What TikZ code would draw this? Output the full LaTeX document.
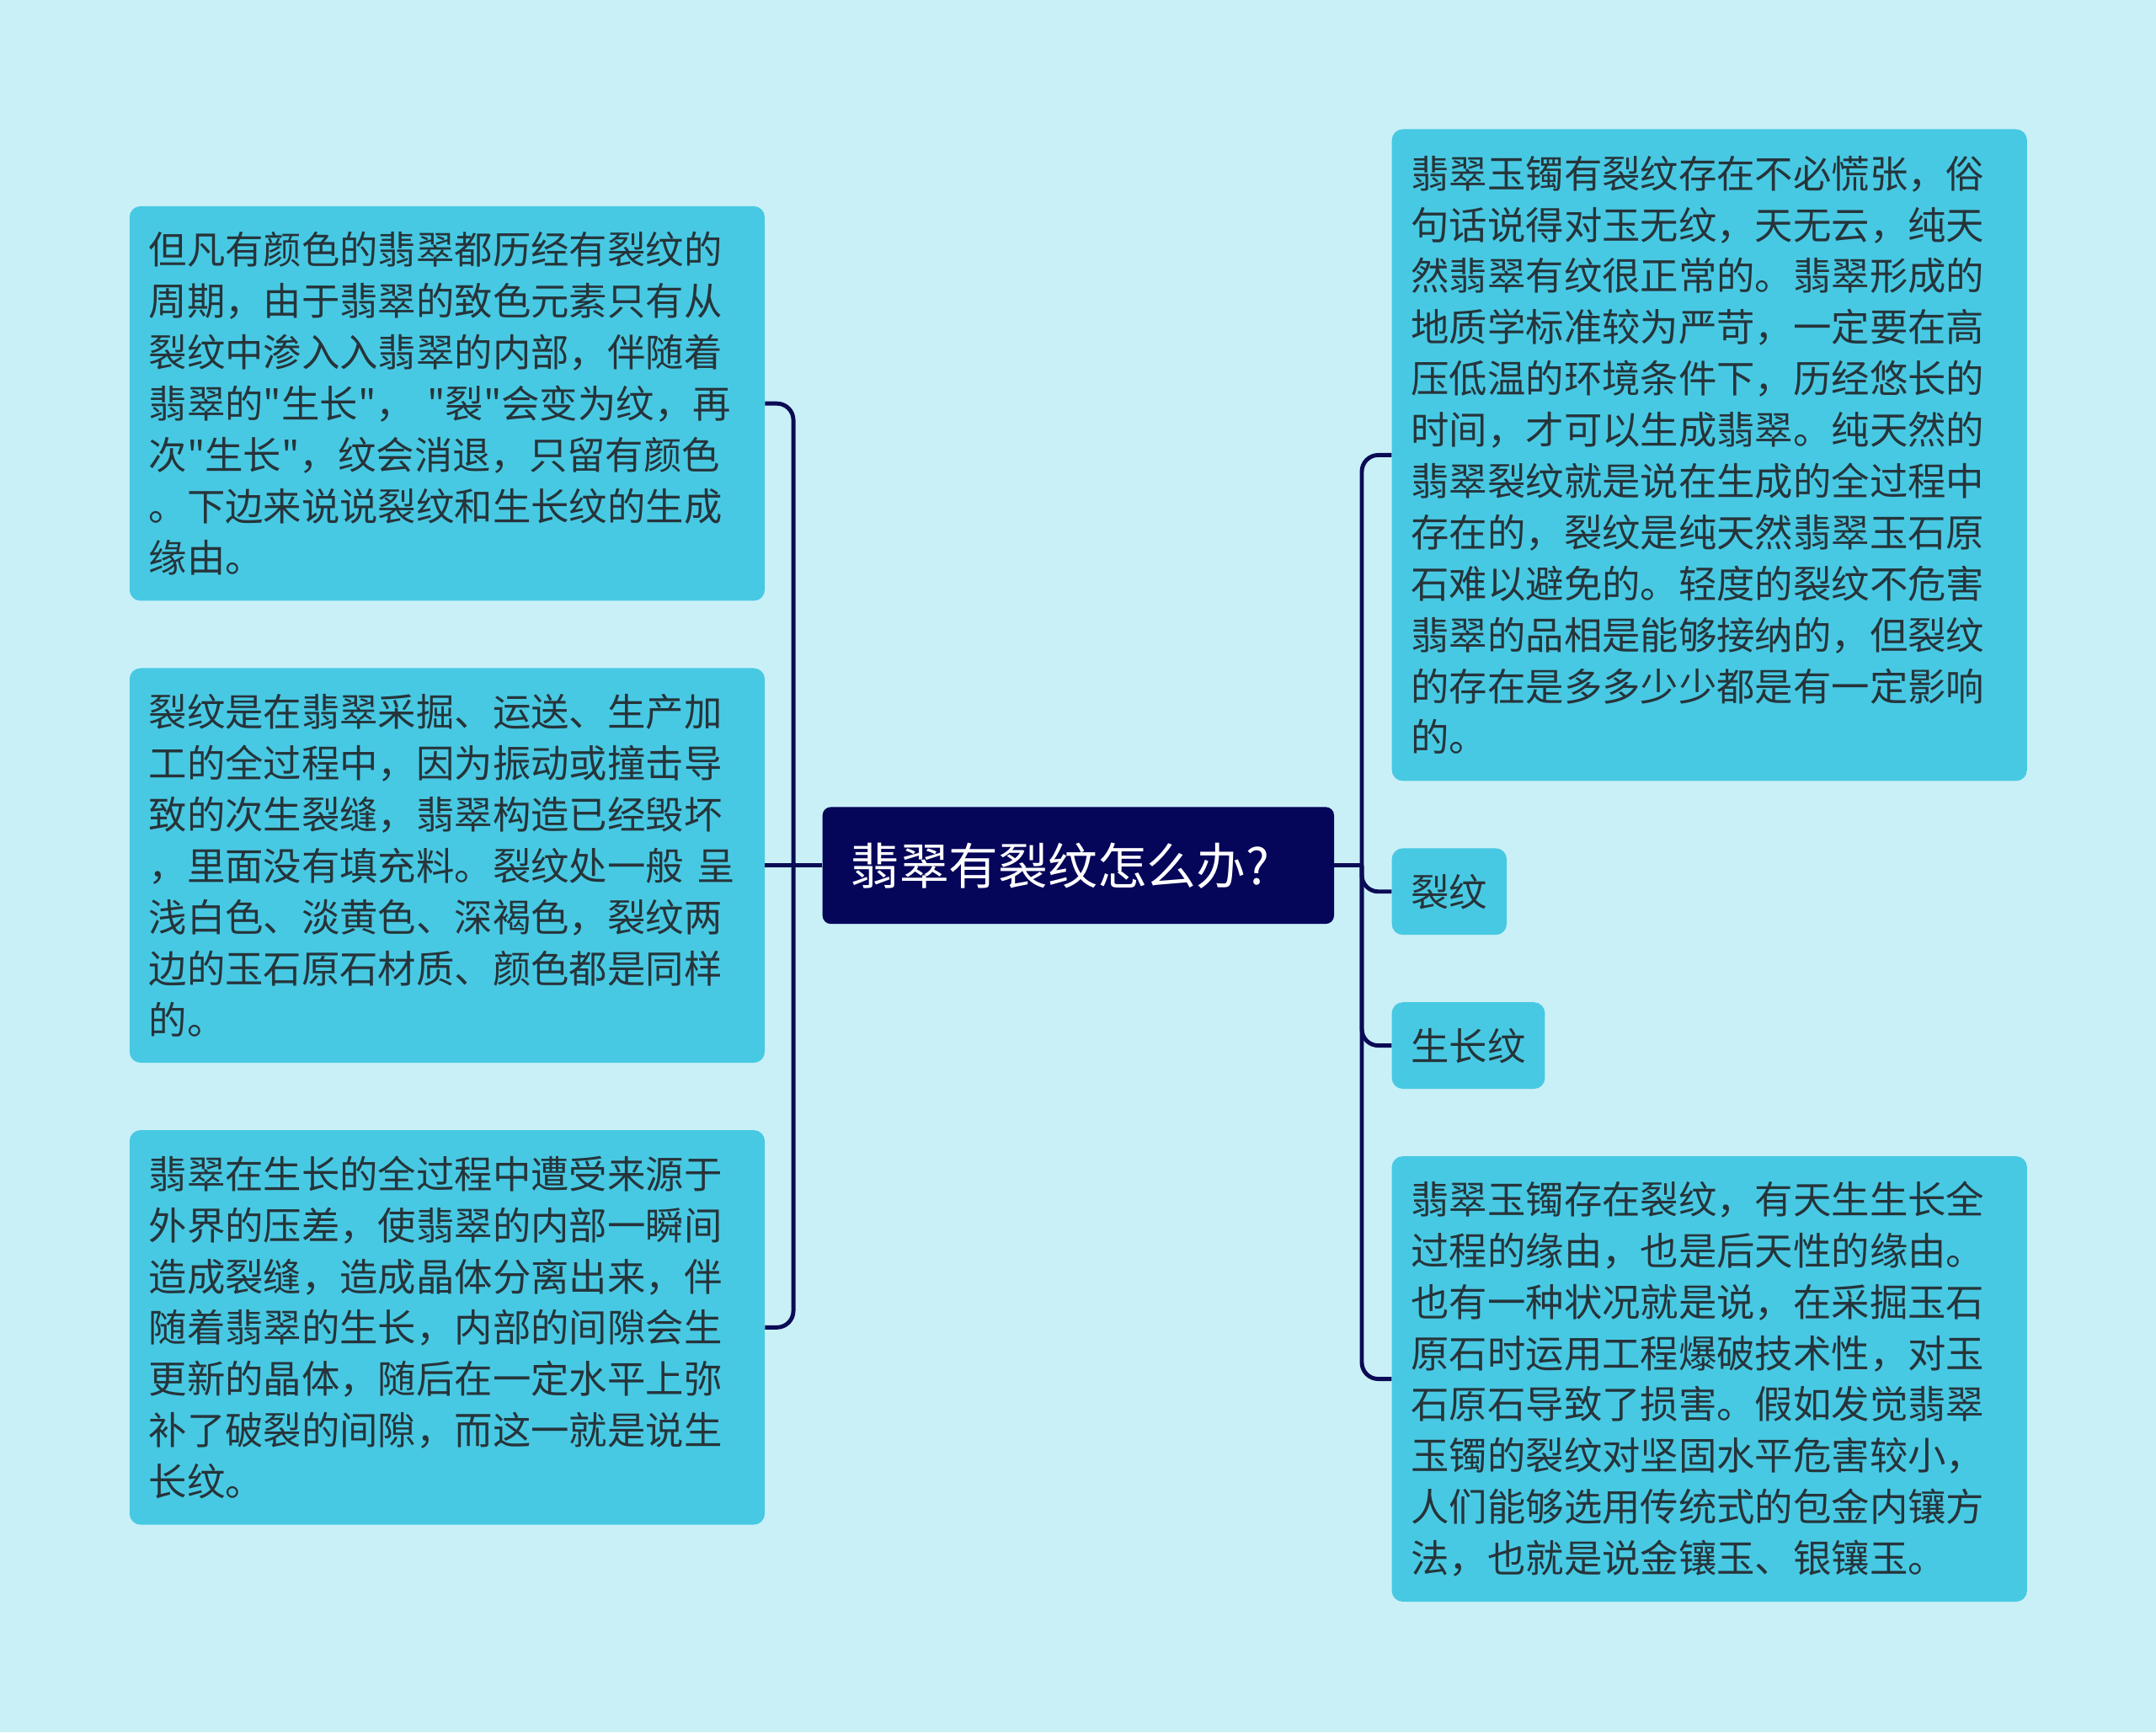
\documentclass[tikz,border=0pt]{standalone}
\usepackage{fontspec}
\setmainfont{Noto Sans CJK SC}[Ligatures=TeXOff]
\definecolor{bgc}{HTML}{CAF0F7}
\definecolor{boxc}{HTML}{48C9E3}
\definecolor{rootc}{HTML}{05055A}
\definecolor{linec}{HTML}{0B0B55}
\definecolor{txtc}{HTML}{26343A}
\tikzset{
  box/.style={fill=boxc, rounded corners=8pt, text=txtc, align=left,
    font=\fontsize{27.8pt}{37.3pt}\selectfont, inner xsep=14pt, inner ysep=10pt},
  para/.style={box, text width=434pt, anchor=west},
  link/.style={draw=linec, line width=3pt, rounded corners=12pt},
}

\begin{document}
\begin{tikzpicture}[x=1pt, y=-1pt]
      \fill[bgc] (0,0) rectangle (1568,1260);
      \useasboundingbox (0,0) rectangle (1568,1260);

      % main topic
      \node[fill=rootc, text=white, rounded corners=6pt, anchor=west,
        font=\fontsize{36pt}{40pt}\selectfont, minimum height=85pt,
        text width=332pt, inner xsep=20pt, align=left] (root) at (598,629.5) {翡翠有裂纹怎么办?};

      % left side
      \node[para, minimum height=287pt] (l1) at (94,293.5) {但凡有颜色的翡翠都历经有裂纹的\\周期，由于翡翠的致色元素只有从\\裂纹中渗入入翡翠的内部，伴随着\\翡翠的"生长"， "裂"会变为纹，再\\次"生长"，纹会消退，只留有颜色\\。下边来说说裂纹和生长纹的生成\\缘由。};
      \node[para, minimum height=287pt] (l2) at (94,629.5) {裂纹是在翡翠采掘、运送、生产加\\工的全过程中，因为振动或撞击导\\致的次生裂缝，翡翠构造已经毁坏\\，里面没有填充料。裂纹处一般 呈\\浅白色、淡黄色、深褐色，裂纹两\\边的玉石原石材质、颜色都是同样\\的。};
      \node[para, minimum height=287pt] (l3) at (94,965.5) {翡翠在生长的全过程中遭受来源于\\外界的压差，使翡翠的内部一瞬间\\造成裂缝，造成晶体分离出来，伴\\随着翡翠的生长，内部的间隙会生\\更新的晶体，随后在一定水平上弥\\补了破裂的间隙，而这一就是说生\\长纹。};

      % right side
      \node[para, minimum height=474pt] (r1) at (1012,331) {翡翠玉镯有裂纹存在不必慌张，俗\\句话说得对玉无纹，天无云，纯天\\然翡翠有纹很正常的。翡翠形成的\\地质学标准较为严苛，一定要在高\\压低温的环境条件下，历经悠长的\\时间，才可以生成翡翠。纯天然的\\翡翠裂纹就是说在生成的全过程中\\存在的，裂纹是纯天然翡翠玉石原\\石难以避免的。轻度的裂纹不危害\\翡翠的品相是能够接纳的，但裂纹\\的存在是多多少少都是有一定影响\\的。};
      \node[box, anchor=west, minimum height=63pt] (r2) at (1012,648.5) {裂纹};
      \node[box, anchor=west, minimum height=63pt] (r3) at (1012,760.5) {生长纹};
      \node[para, minimum height=324pt] (r4) at (1012,1003) {翡翠玉镯存在裂纹，有天生生长全\\过程的缘由，也是后天性的缘由。\\也有一种状况就是说，在采掘玉石\\原石时运用工程爆破技术性，对玉\\石原石导致了损害。假如发觉翡翠\\玉镯的裂纹对坚固水平危害较小，\\人们能够选用传统式的包金内镶方\\法，也就是说金镶玉、银镶玉。};

      % connectors
      \draw[link] (root.west) -- (l2.east);
      \coordinate (lj) at (577,629.5);
      \draw[link] (lj) |- (l1.east);
      \draw[link] (lj) |- (l3.east);
      \draw[link] (root.east) -- ++(20,0) coordinate (rj);
      \draw[link] (rj) |- (r1.west);
      \draw[link] (rj) |- (r2.west);
      \draw[link] (rj) |- (r3.west);
      \draw[link] (rj) |- (r4.west);
    \end{tikzpicture}
\end{document}
